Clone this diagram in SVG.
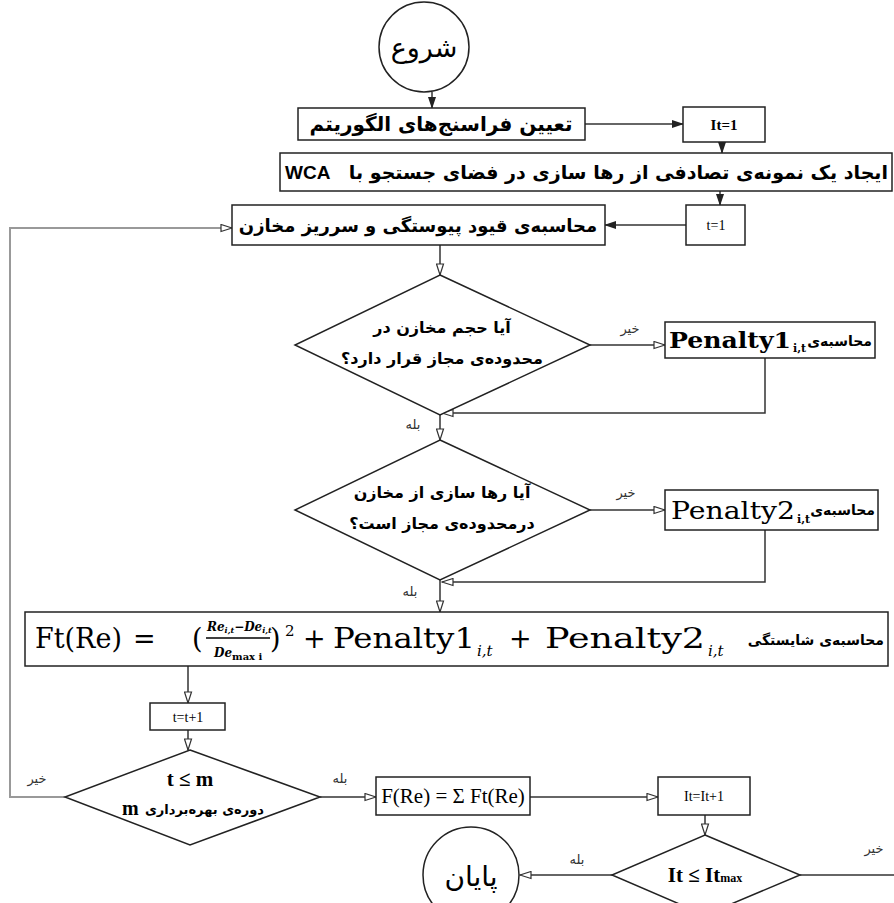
<svg xmlns="http://www.w3.org/2000/svg" width="894" height="903" viewBox="0 0 894 903">
<style>
.n{fill:#fff;stroke:#222;stroke-width:1.5}
.c{fill:none;stroke:#333;stroke-width:1.5}
.g{fill:none;stroke:#999;stroke-width:2}
.fa{font-family:"DejaVu Sans",sans-serif;font-weight:bold;fill:#000}
.fl{font-family:"DejaVu Sans",sans-serif;font-size:13px;fill:#333}
.sb{font-family:"Liberation Serif",serif;font-weight:bold;fill:#000}
.sr{font-family:"Liberation Serif",serif;font-weight:normal;fill:#000}
.dr{font-family:"DejaVu Serif",serif;font-weight:normal;fill:#000}
.db{font-family:"DejaVu Serif",serif;font-weight:bold;fill:#000}
.mid{text-anchor:middle}
</style>
<defs>
<marker id="af" markerWidth="12" markerHeight="8" refX="11" refY="4" orient="auto" markerUnits="userSpaceOnUse"><path d="M0,0 L12,4 L0,8 z" fill="#222"/></marker>
<marker id="ao" markerWidth="13" markerHeight="9" refX="12" refY="4.5" orient="auto" markerUnits="userSpaceOnUse"><path d="M1,1 L12,4.5 L1,8 z" fill="#fff" stroke="#333" stroke-width="1.2"/></marker>
</defs>

<g id="connectors">
<line class="c" x1="432" y1="92" x2="432" y2="108" marker-end="url(#af)"/>
<line class="c" x1="585" y1="124" x2="683" y2="124" marker-end="url(#af)"/>
<line class="c" x1="722" y1="142" x2="722" y2="153" marker-end="url(#af)"/>
<line class="c" x1="720" y1="191" x2="720" y2="205" marker-end="url(#af)"/>
<line class="c" x1="686" y1="225" x2="605" y2="225" marker-end="url(#af)"/>
<polyline class="g" points="65,797 10,797 10,228 232,228" marker-end="url(#ao)"/>
<line class="c" x1="440" y1="245" x2="440" y2="275" marker-end="url(#ao)"/>
<line class="c" x1="590" y1="345" x2="665" y2="345" marker-end="url(#ao)"/>
<polyline class="c" points="765,358 765,413 442,413" marker-end="url(#ao)"/>
<line class="c" x1="440" y1="415" x2="440" y2="440" marker-end="url(#ao)"/>
<line class="c" x1="590" y1="510" x2="665" y2="510" marker-end="url(#ao)"/>
<polyline class="c" points="765,530 765,582 442,582" marker-end="url(#ao)"/>
<line class="c" x1="440" y1="580" x2="440" y2="612" marker-end="url(#ao)"/>
<line class="c" x1="188" y1="666" x2="188" y2="703" marker-end="url(#ao)"/>
<line class="c" x1="188" y1="730" x2="188" y2="750" marker-end="url(#ao)"/>
<line class="c" x1="320" y1="797" x2="376" y2="797" marker-end="url(#ao)"/>
<line class="c" x1="530" y1="797" x2="658" y2="797" marker-end="url(#ao)"/>
<line class="c" x1="705" y1="815" x2="705" y2="835" marker-end="url(#ao)"/>
<line class="c" x1="612" y1="875" x2="520" y2="875" marker-end="url(#ao)"/>
<line class="c" x1="800" y1="875" x2="894" y2="875"/>
<text class="fl" x="630" y="333" text-anchor="middle">خیر</text>
<text class="fl" x="413" y="429" text-anchor="middle">بله</text>
<text class="fl" x="626" y="497" text-anchor="middle">خیر</text>
<text class="fl" x="410" y="596" text-anchor="middle">بله</text>
<text class="fl" x="37" y="783" text-anchor="middle">خیر</text>
<text class="fl" x="340" y="783" text-anchor="middle">بله</text>
<text class="fl" x="577" y="864" text-anchor="middle">بله</text>
<text class="fl" x="874" y="853" text-anchor="middle">خیر</text>
</g>

<g id="start">
<circle class="n" cx="424" cy="47" r="45"/>
<text x="424" y="57" class="mid" font-family="DejaVu Sans, sans-serif" font-size="27">شروع</text>
</g>

<g id="params">
<rect class="n" x="298" y="108" width="287" height="32"/>
<text class="fa mid" x="441" y="131" font-size="20">تعیین فراسنج‌های الگوریتم</text>
</g>

<g id="it1">
<rect class="n" x="683" y="107" width="82" height="35"/>
<text class="sb mid" x="724" y="130" font-size="15">It=1</text>
</g>

<g id="init">
<rect class="n" x="280" y="153" width="612" height="38"/>
<text x="285" y="179" font-family="Liberation Sans, sans-serif" font-weight="bold" font-size="19">WCA</text>
<text class="fa" x="888" y="179" font-size="19" text-anchor="end">ایجاد یک نمونه‌ی تصادفی از رها سازی در فضای جستجو با</text>
</g>

<g id="t1">
<rect class="n" x="686" y="205" width="59" height="40"/>
<text class="sr mid" x="716" y="230" font-size="14">t=1</text>
</g>

<g id="constraints">
<rect class="n" x="232" y="205" width="373" height="40"/>
<text class="fa mid" x="418" y="232" font-size="18">محاسبه‌ی قیود پیوستگی و سرریز مخازن</text>
</g>

<g id="check1">
<polygon class="n" points="440,275 590,345 440,415 295,345"/>
<text class="fa mid" x="442" y="333" font-size="16">آیا حجم مخازن در</text>
<text class="fa mid" x="442" y="364" font-size="16">محدوده‌ی مجاز قرار دارد؟</text>
</g>

<g id="pen1">
<rect class="n" x="665" y="322" width="210" height="36"/>
<text class="db" x="669" y="348" font-size="23" textLength="122" lengthAdjust="spacingAndGlyphs">Penalty1</text>
<text class="db" x="793" y="352" font-size="11">i,t</text>
<text class="fa" x="872" y="346" font-size="14" text-anchor="end">محاسبه‌ی</text>
</g>

<g id="check2">
<polygon class="n" points="440,440 590,510 440,580 295,510"/>
<text class="fa mid" x="442" y="498" font-size="16">آیا رها سازی از مخازن</text>
<text class="fa mid" x="442" y="529" font-size="16">درمحدوده‌ی مجاز است؟</text>
</g>

<g id="pen2">
<rect class="n" x="665" y="490" width="213" height="40"/>
<text class="dr" x="671" y="519" font-size="25" textLength="124" lengthAdjust="spacingAndGlyphs">Penalty2</text>
<text class="db" x="797" y="523" font-size="11">i,t</text>
<text class="fa" x="875" y="515" font-size="14" text-anchor="end">محاسبه‌ی</text>
</g>

<g id="fitness">
<rect class="n" x="25" y="612" width="863" height="54"/>
<text class="dr" x="35" y="648" font-size="27">Ft(Re)</text>
<text class="dr" x="133" y="648" font-size="27">=</text>
<text class="dr" x="192" y="648" font-size="27">(</text>
<text class="db" x="207" y="631" font-size="12" font-style="italic">Re<tspan font-size="8" dy="2">i,t</tspan><tspan dy="-2">−De</tspan><tspan font-size="8" dy="2">i,t</tspan></text>
<line x1="206" y1="638" x2="270" y2="638" stroke="#000" stroke-width="1.3"/>
<text class="db" x="214" y="657" font-size="12" font-style="italic">De<tspan font-size="10" font-style="normal" dy="3">max i</tspan></text>
<text class="dr" x="270" y="648" font-size="27">)</text>
<text class="dr" x="285" y="636" font-size="15">2</text>
<text class="dr" x="303" y="648" font-size="27">+</text>
<text class="dr" x="333" y="648" font-size="27" textLength="142" lengthAdjust="spacingAndGlyphs">Penalty1</text>
<text class="dr" x="477" y="656" font-size="15" font-style="italic">i,t</text>
<text class="dr" x="509" y="648" font-size="27">+</text>
<text class="dr" x="545" y="648" font-size="27" textLength="160" lengthAdjust="spacingAndGlyphs">Penalty2</text>
<text class="dr" x="708" y="656" font-size="15" font-style="italic">i,t</text>
<text class="fa" x="884" y="645" font-size="14" text-anchor="end">محاسبه‌ی شایستگی</text>
</g>

<g id="tinc">
<rect class="n" x="150" y="703" width="75" height="27"/>
<text class="sr mid" x="188" y="722" font-size="14">t=t+1</text>
</g>

<g id="check3">
<polygon class="n" points="190,750 320,797 190,845 65,797"/>
<text class="sb mid" x="190" y="786" font-size="21">t ≤ m</text>
<text class="sb" x="122" y="815" font-size="20">m</text>
<text class="fa" x="264" y="814" font-size="13" text-anchor="end">دوره‌ی بهره‌برداری</text>
</g>

<g id="fsum">
<rect class="n" x="376" y="777" width="154" height="38"/>
<text class="sr mid" x="453" y="803" font-size="21">F(Re) =  Σ Ft(Re)</text>
</g>

<g id="itinc">
<rect class="n" x="658" y="777" width="92" height="38"/>
<text class="sr mid" x="704" y="801" font-size="14">It=It+1</text>
</g>

<g id="check4">
<polygon class="n" points="705,835 800,875 705,915 612,875"/>
<text class="sb mid" x="705" y="882" font-size="21">It ≤ It<tspan font-size="12">max</tspan></text>
</g>

<g id="end">
<circle class="n" cx="471" cy="875" r="48"/>
<text x="471" y="886" class="mid" font-family="DejaVu Sans, sans-serif" font-size="28">پایان</text>
</g>
</svg>
